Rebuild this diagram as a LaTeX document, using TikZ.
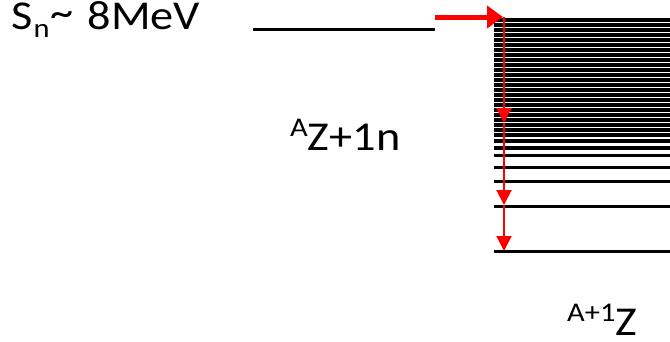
\documentclass[tikz,border=0pt]{standalone}
\usepackage{fontspec}
\setmainfont{Carlito}
\usetikzlibrary{arrows.meta}
\tikzset{
  level/.style={line width=3.6pt, black},
  snline/.style={line width=3pt, black},
  redin/.style={line width=5pt, red, -{Triangle[length=16pt,width=22pt]}},
  reddown/.style={line width=2pt, red, -{Triangle[length=15pt,width=15pt]}},
  lbl/.style={inner sep=0pt, anchor=base west, font=\fontsize{41}{41}\selectfont}
}
\newcommand{\supA}[1]{\raisebox{0.34em}{\fontsize{27}{27}\selectfont #1}}
\newcommand{\subN}[1]{\raisebox{-0.2em}{\fontsize{27}{27}\selectfont #1}}
\begin{document}
\begin{tikzpicture}[x=1pt,y=-1pt]
\useasboundingbox (0,0) rectangle (670,341);
% labels
\node[lbl] (sn) at (11,29) {\scalebox{1.13}[1]{S\kern1pt\subN{n}\kern1pt\raisebox{0.05em}{\char`\~}\kern3pt{} 8MeV}};
\node[lbl] (azn) at (290,150) {\scalebox{1.13}[1]{\supA{A}Z+1n}};
\node[lbl] (aoz) at (567,335) {\scalebox{1.13}[1]{\supA{A+1}Z}};
% separation energy line
\coordinate (snl) at (253,29);
\coordinate (snr) at (435,29);
\draw[snline] (snl) -- (snr);
% dense levels
\foreach \yy in {20,25,...,135,141,148,155.5,167.5,181.5,206.5,251.5}{
  \draw[level] (494,\yy) -- (670,\yy);
}
% red arrows
\coordinate (ina) at (435,17);
\coordinate (inb) at (503,17);
\draw[redin] (ina) -- (inb);
\coordinate (v0) at (504,17);
\coordinate (v1) at (504,123);
\coordinate (v2) at (504,205);
\coordinate (v3) at (504,251);
\draw[reddown] (v0) -- (v1);
\draw[reddown] (v1) -- (v2);
\draw[reddown] (v2) -- (v3);
\end{tikzpicture}
\end{document}
